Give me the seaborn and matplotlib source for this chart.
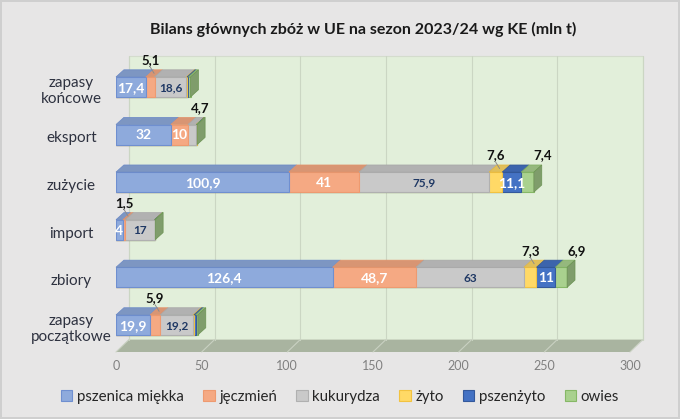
import matplotlib
matplotlib.use("Agg")
import matplotlib.pyplot as plt
import matplotlib.colors as mcolors
from matplotlib.patches import Polygon, Patch
import pandas as pd
import seaborn as sns

# --- data (mln t) ---
categories = ["zapasy\nkońcowe", "eksport", "zużycie", "import", "zbiory", "zapasy\npoczątkowe"]
series = ["pszenica miękka", "jęczmień", "kukurydza", "żyto", "pszenżyto", "owies"]

pszenica = [17.4, 32, 100.9, 4, 126.4, 19.9]
jeczmien = [5.1, 10, 41, 1.5, 48.7, 5.9]
kukurydza = [18.6, 4.7, 75.9, 17, 63, 19.2]
zyto = [0.4, 0.3, 7.6, 0.1, 7.3, 0.5]
pszenzyto = [0.8, 0.1, 11.1, 0.1, 11, 1.0]
owies = [1.2, 0.3, 7.4, 0.2, 6.9, 1.3]

x_ticks = [0, 50, 100, 150, 200, 250, 300]
title = "Bilans głównych zbóż w UE na sezon 2023/24 wg KE (mln t)"

# --- style ---
face = ["#8eaadc", "#f5a983", "#c9c9c9", "#ffd966", "#4472c4", "#a9d18e"]
edge = ["#6f8fd0", "#ee9a70", "#b0b0b0", "#f2c240", "#34599c", "#86b866"]
BAR_H = 0.42
BAR_DX, BAR_DY = 4.6, 0.15      # bar depth (data units)
WALL_DX, WALL_DY = 7.5, 0.26    # back wall offset
YTOP, YBOT = -0.65, 5.57

sns.set_theme(style="white")
plt.rcParams["font.family"] = ["Lato", "DejaVu Sans"]

values = [pszenica, jeczmien, kukurydza, zyto, pszenzyto, owies]
rows = []
for si, s in enumerate(series):
    for ci, c in enumerate(categories):
        left = sum(values[k][ci] for k in range(si))
        rows.append({"kategoria": c, "zboze": s, "wartosc": values[si][ci],
                     "lewo": left, "prawo": left + values[si][ci]})
df = pd.DataFrame(rows)

fig = plt.figure(figsize=(6.8, 4.19), dpi=100, facecolor="#e7e6e6")
fig.patch.set_edgecolor("#cfcfcf")
fig.patch.set_linewidth(1.5)
ax = fig.add_axes([116 / 680, 1 - 352 / 419, 514 / 680, 296 / 419])
ax.set_facecolor("none")

# back wall, floor and gridlines
ax.add_patch(Polygon([(WALL_DX, YBOT - WALL_DY), (300 + WALL_DX, YBOT - WALL_DY),
                      (300 + WALL_DX, YTOP), (WALL_DX, YTOP)],
                     closed=True, facecolor="#e2efda", edgecolor="#d4dccd",
                     lw=0.8, clip_on=False, zorder=0))
ax.add_patch(Polygon([(0, YBOT), (300, YBOT), (300 + WALL_DX, YBOT - WALL_DY),
                      (WALL_DX, YBOT - WALL_DY)],
                     closed=True, facecolor="#a9b4a0", edgecolor="none",
                     clip_on=False, zorder=0))
for t in x_ticks:
    ax.plot([t + WALL_DX, t + WALL_DX], [YBOT - WALL_DY, YTOP], color="#cbd6c3",
            lw=0.8, clip_on=False, zorder=1)
    ax.plot([t, t + WALL_DX], [YBOT, YBOT - WALL_DY], color="#c9d1c2",
            lw=0.8, clip_on=False, zorder=1)

# front faces: cumulative bars drawn longest first
for si in range(len(series) - 1, -1, -1):
    sub = df[df["zboze"] == series[si]]
    sns.barplot(data=sub, x="prawo", y="kategoria", order=categories, orient="y",
                color=face[si], saturation=1, edgecolor=edge[si], linewidth=0.8,
                width=BAR_H, errorbar=None, ax=ax, zorder=3)


def shade(c, f):
    r, g, b = mcolors.to_rgb(c)
    return (r * f, g * f, b * f)


# top faces, side face, labels
for ci in range(len(categories)):
    yt = ci - BAR_H / 2
    yb = ci + BAR_H / 2
    last = None
    for si in range(len(series)):
        row = df[(df["zboze"] == series[si]) & (df["kategoria"] == categories[ci])].iloc[0]
        l, r, v = row["lewo"], row["prawo"], row["wartosc"]
        if v <= 0:
            continue
        last = si
        ax.add_patch(Polygon([(l, yt), (r, yt), (r + BAR_DX, yt - BAR_DY), (l + BAR_DX, yt - BAR_DY)],
                             closed=True, facecolor=shade(face[si], 0.88),
                             edgecolor=shade(edge[si], 0.95), lw=0.5, zorder=4, clip_on=False))
        if v < 1.5:
            continue
        txt = f"{v:g}".replace(".", ",")
        mid = (l + r) / 2
        if v >= 8 or si == 0:
            col = "#1f3864" if si == 2 else "white"
            fs = 8.5 if si == 2 else 10
            ax.text(mid, ci + 0.02, txt, ha="center", va="center", color=col,
                    fontsize=fs, fontweight="bold", zorder=6)
        else:
            nudge = {2: 5, 5: 9}.get(si, 0)
            ly = ci - 0.56
            ax.text(mid + nudge, ly, txt, ha="center", va="center", color="#111111",
                    fontsize=9.5, fontweight="bold", zorder=6, clip_on=False)
            if nudge == 0:
                ax.plot([mid + BAR_DX / 2, mid + nudge], [yt - BAR_DY / 2, ly + 0.14],
                        color="#8c8c8c", lw=0.7, zorder=5)
    R = df[(df["kategoria"] == categories[ci])]["prawo"].max()
    ax.add_patch(Polygon([(R, yt), (R + BAR_DX, yt - BAR_DY), (R + BAR_DX, yb - BAR_DY), (R, yb)],
                         closed=True, facecolor=shade(face[last], 0.75),
                         edgecolor=shade(edge[last], 0.8), lw=0.5, zorder=4, clip_on=False))
    ax.text(-26, ci + 0.08, categories[ci], ha="center", va="center", fontsize=11,
            color="#2e3240", linespacing=1.15, clip_on=False)

ax.set_xlim(0, 300)
ax.set_ylim(YBOT, YTOP)
ax.set_xticks(x_ticks)
ax.set_xticklabels([str(t) for t in x_ticks])
ax.set_yticks([])
ax.set_xlabel("")
ax.set_ylabel("")
ax.tick_params(axis="x", length=0, pad=6, labelsize=9, labelcolor="#808080")
for sp in ax.spines.values():
    sp.set_visible(False)

fig.text(363 / 680, 1 - 29 / 419, title, ha="center", va="center", fontsize=11.5,
         fontweight="bold", color="#1a1a1a")

handles = [Patch(facecolor=face[i], edgecolor=edge[i], lw=0.8) for i in range(len(series))]
fig.legend(handles, series, loc="center", bbox_to_anchor=(0.5, 1 - 397 / 419), ncol=6,
           frameon=False, fontsize=10.8, handlelength=0.75, handleheight=0.75,
           handletextpad=0.3, columnspacing=1.3, labelcolor="#262626")

fig.savefig("out.png", dpi=100, facecolor=fig.get_facecolor(), edgecolor=fig.get_edgecolor())
